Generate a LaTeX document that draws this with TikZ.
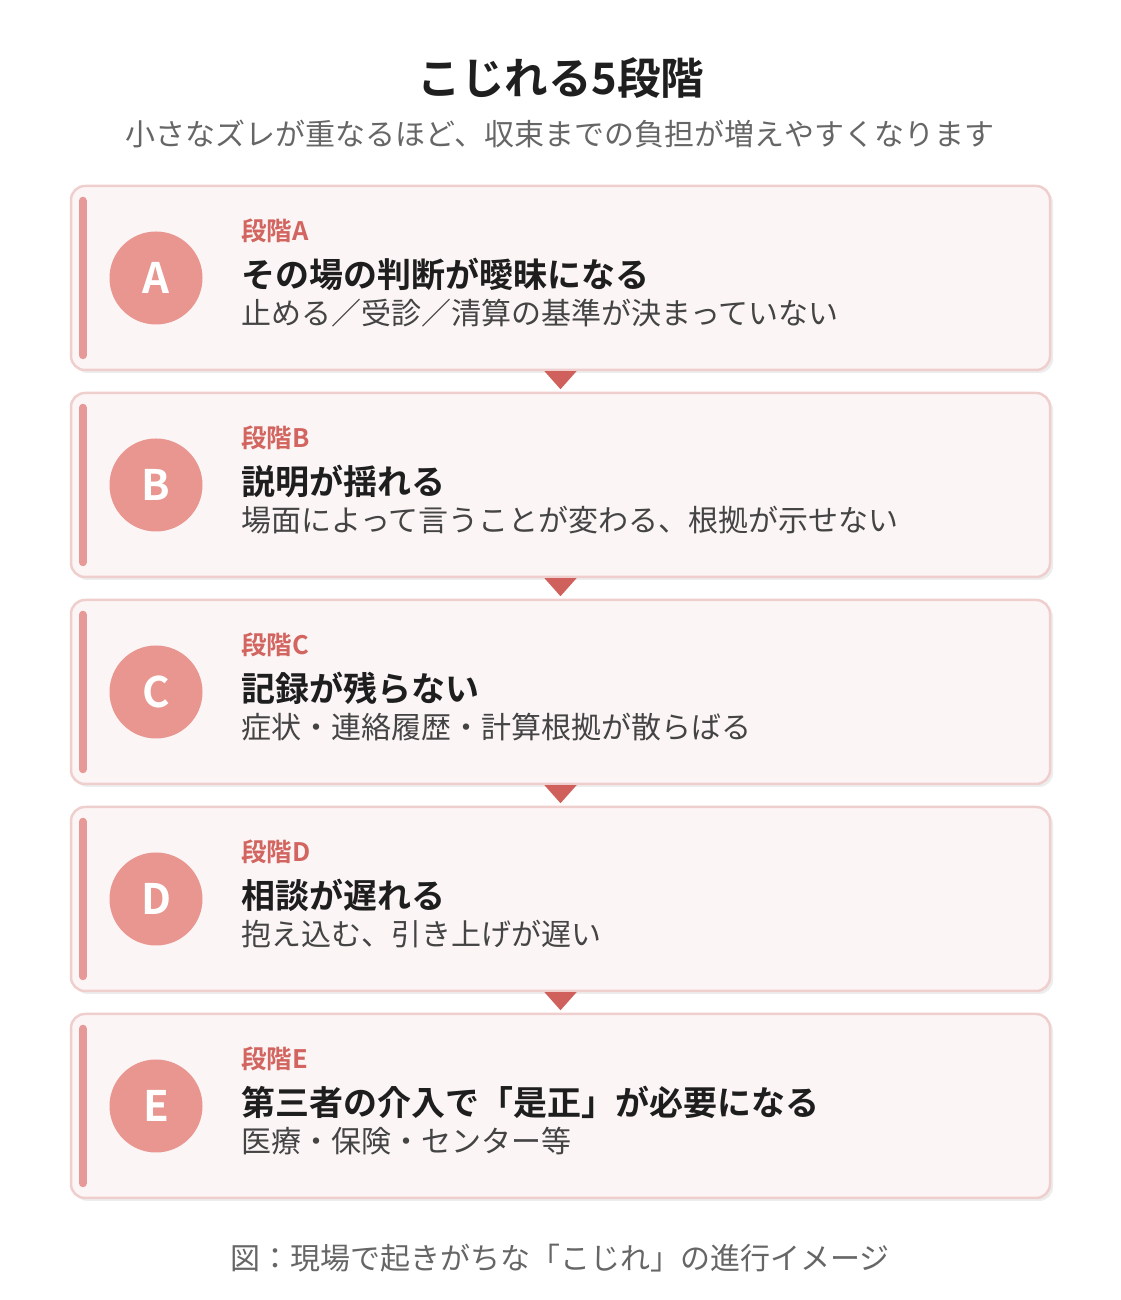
\documentclass[tikz,border=0pt]{standalone}
\usepackage{fontspec}
\setmainfont{Noto Sans CJK JP}[BoldFont={Noto Sans CJK JP Bold}]
\usetikzlibrary{positioning,shadows}

\definecolor{titlecol}{HTML}{1F1F1F}
\definecolor{subcol}{HTML}{666666}
\definecolor{cardfill}{HTML}{FCF5F5}
\definecolor{cardline}{HTML}{EFCFCD}
\definecolor{barcol}{HTML}{E59A97}
\definecolor{badgecol}{HTML}{E8968F}
\definecolor{labelcol}{HTML}{D2655F}
\definecolor{headcol}{HTML}{1E1E1E}
\definecolor{desccol}{HTML}{444444}
\definecolor{tipcol}{HTML}{D0605C}

\tikzset{
	card/.style={rectangle, rounded corners=14, draw=cardline, line width=2.5, fill=cardfill,
		minimum width=979, minimum height=184,
		drop shadow={shadow xshift=3, shadow yshift=-3, fill=black!7, opacity=1}},
	bar/.style={barcol, line width=8, line cap=round},
	badge/.style={circle, fill=badgecol, minimum size=93, inner sep=0, text=white,
		font=\bfseries\fontsize{42}{48}\selectfont},
	stagelabel/.style={anchor=base west, inner sep=0, text=labelcol,
		font=\bfseries\fontsize{25.5}{30}\selectfont},
	stagehead/.style={anchor=base west, inner sep=0, text=headcol,
		font=\bfseries\fontsize{34}{40}\selectfont},
	stagedesc/.style={anchor=base west, inner sep=0, text=desccol,
		font=\fontsize{30}{36}\selectfont},
	tip/.style={fill=tipcol}
}

\begin{document}
\begin{tikzpicture}[x=1pt,y=1pt]

	\useasboundingbox[fill=white] (0,0) rectangle (1120,1300);

	% title
	\node[text=titlecol, font=\bfseries\fontsize{43.5}{50}\selectfont] (title) at (561,1222) {こじれる5段階};
	\node[text=subcol, font=\fontsize{30}{36}\selectfont] (subtitle) at (560,1166) {小さなズレが重なるほど、収束までの負担が増えやすくなります};

	% cards
	\foreach \l/\head/\desc [count=\i from 0] in {
		A/{その場の判断が曖昧になる}/{止める／受診／清算の基準が決まっていない},
		B/{説明が揺れる}/{場面によって言うことが変わる、根拠が示せない},
		C/{記録が残らない}/{症状・連絡履歴・計算根拠が散らばる},
		D/{相談が遅れる}/{抱え込む、引き上げが遅い},
		E/{第三者の介入で「是正」が必要になる}/{医療・保険・センター等}}
	{
		\pgfmathsetmacro{\cardtop}{1114-207*\i}
		\pgfmathsetmacro{\cardmid}{\cardtop-92}
		\node[card] (card\l) at (560.5,\cardmid) {};
		\draw[bar] ([xshift=13,yshift=-16]card\l.north west) -- ([xshift=13,yshift=16]card\l.south west);
		\node[badge] (badge\l) at (156,\cardmid) {\l};
		\node[stagelabel] (label\l) at (241,\cardtop-55) {段階\l};
		\node[stagehead] (head\l) at (241,\cardtop-102) {\head};
		\node[stagedesc] (desc\l) at (241,\cardtop-139) {\desc};
	}

	% arrows between cards
	\foreach \p in {A,B,C,D}
		\fill[tip] ([xshift=-16]card\p.south) -- ([xshift=16]card\p.south) -- ([yshift=-18]card\p.south) -- cycle;

	% caption
	\node[text=subcol, font=\fontsize{30}{36}\selectfont] (caption) at (560,42) {図：現場で起きがちな「こじれ」の進行イメージ};

\end{tikzpicture}
\end{document}
